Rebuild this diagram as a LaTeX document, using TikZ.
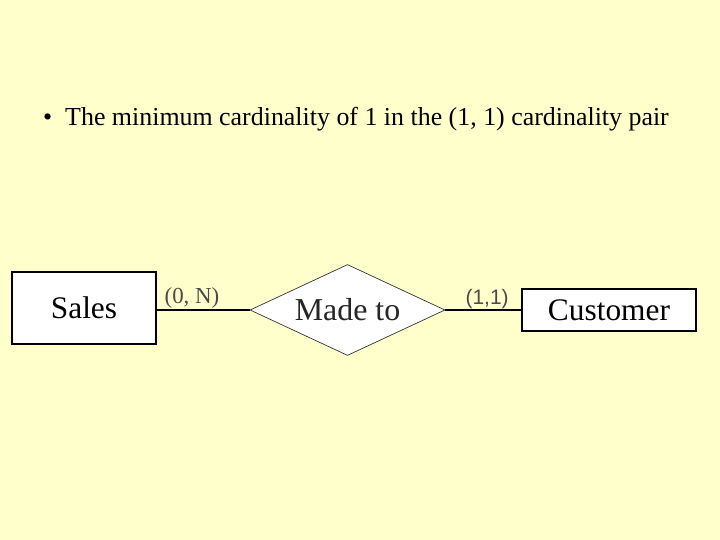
\documentclass[tikz,border=0pt]{standalone}
\usepackage{fontspec}
\setmainfont{Liberation Serif}
\newfontfamily\arialfont{Liberation Sans}
\usepackage{tikz}
\usetikzlibrary{positioning,shapes.geometric}
\usepackage{xcolor}
\definecolor{slidebg}{HTML}{FFFFCC}
\definecolor{lblgray}{HTML}{4A4A4A}

\begin{document}
\begin{tikzpicture}[
    x=1bp, y=-1bp,
    entity/.style={
        rectangle, draw=black, line width=1.3pt, fill=white,
        inner sep=0pt, font=\fontsize{31.5}{34}\selectfont
    },
    relation/.style={
        diamond, draw=black!80, line width=0.7pt, fill=white,
        minimum width=195bp, minimum height=91bp, inner sep=0pt,
        aspect=2.1, font=\fontsize{32}{34}\selectfont, text=black!85
    },
    link/.style={draw=black, line width=1.3pt},
    card/.style={font=\fontsize{23}{25}\selectfont, text=lblgray, above, inner sep=1pt}
]

% slide background
\fill[slidebg] (0,0) rectangle (720,540);
\useasboundingbox (0,0) rectangle (720,540);

% bullet line
\node[anchor=west, inner sep=0pt, font=\fontsize{26}{30}\selectfont] (title) at (43,119)
    {\textbullet\hspace{13bp}The minimum cardinality of 1 in the (1, 1) cardinality pair};

% Sales entity
\node[entity, minimum width=144bp, minimum height=72bp] (sales) at (84,308) {Sales};

% Made to relationship
\node[relation] (madeto) at (347.5,310) {Made to};

% Customer entity
\node[entity, minimum width=174bp, minimum height=42bp] (customer) at (609,310) {Customer};

% connectors with cardinalities
\draw[link] (sales.east |- madeto.west) -- node[card, pos=0.38, yshift=0bp] {(0, N)} (madeto.west);
\draw[link] (madeto.east) -- node[card, pos=0.55, yshift=0bp, font=\arialfont\fontsize{21}{23}\selectfont] {(1,1)} (customer.west);

\end{tikzpicture}
\end{document}
